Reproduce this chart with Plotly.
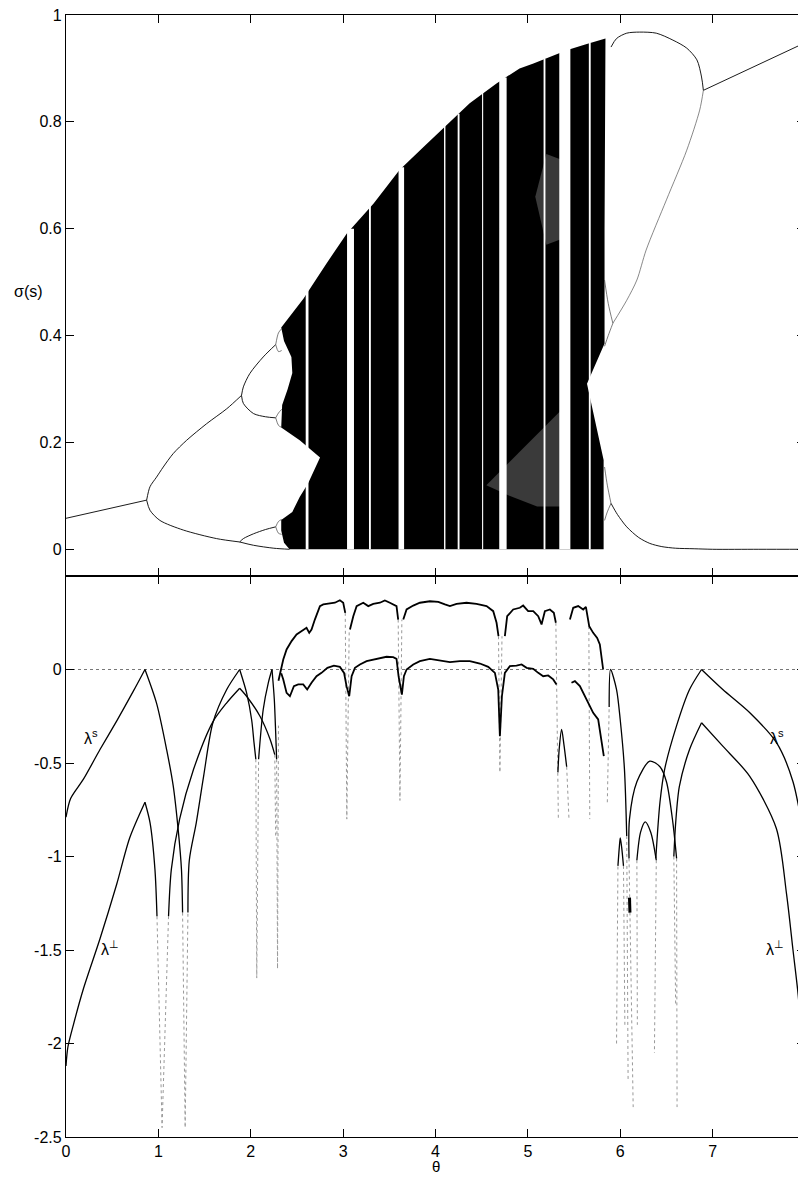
import plotly.graph_objects as go

# ================= TOP PANEL : sigma(s) vs theta =================
# period-1 branch (left) and (right)
p1_theta = [0.0, 0.873]
p1_sigma = [0.058, 0.092]
p1r_theta = [6.90, 8.0]
p1r_sigma = [0.859, 0.948]

# period-2 branches (left)
p2u_theta = [0.873, 0.909, 0.98, 1.053, 1.16, 1.306, 1.522, 1.74, 1.90]
p2u_sigma = [0.092, 0.117, 0.135, 0.154, 0.179, 0.204, 0.235, 0.263, 0.288]
p2l_theta = [0.873, 0.909, 1.017, 1.27, 1.63, 1.88]
p2l_sigma = [0.092, 0.073, 0.054, 0.036, 0.020, 0.0137]

# period-4 branches (left)
p4a_theta = [1.90, 1.92, 1.99, 2.135, 2.27]
p4a_sigma = [0.288, 0.304, 0.329, 0.36, 0.383]
p4b_theta = [1.90, 1.92, 2.03, 2.16, 2.27]
p4b_sigma = [0.288, 0.273, 0.254, 0.248, 0.246]
p4c_theta = [1.88, 1.92, 2.03, 2.16, 2.27]
p4c_sigma = [0.0137, 0.02, 0.029, 0.037, 0.042]
p4d_theta = [1.88, 2.03, 2.25, 2.42]
p4d_sigma = [0.0137, 0.0075, 0.002, 0.0]

# period-8 small loops (left)
p8_theta = [2.27, 2.30, 2.335, None, 2.27, 2.30, 2.335, None,
            2.27, 2.30, 2.335, None, 2.27, 2.30, 2.335, None,
            2.27, 2.30, 2.335, None, 2.27, 2.30, 2.335]
p8_sigma = [0.383, 0.405, 0.413, None, 0.383, 0.37, 0.372, None,
            0.246, 0.255, 0.262, None, 0.246, 0.232, 0.228, None,
            0.042, 0.052, 0.056, None, 0.042, 0.03, 0.028]

# chaotic band (filled outline)
chaos_theta = [2.33, 2.45, 2.57, 2.82, 3.04, 3.33, 3.61, 3.87, 4.12, 4.37, 4.66,
               4.91, 5.06, 5.24, 5.42, 5.62, 5.84, 5.83, 5.83, 5.64, 5.82, 5.82,
               2.42, 2.36, 2.33, 2.33, 2.45, 2.53, 2.62, 2.75, 2.53, 2.33, 2.34,
               2.40, 2.45, 2.44, 2.36, 2.33]
chaos_sigma = [0.415, 0.442, 0.469, 0.535, 0.591, 0.647, 0.71, 0.753, 0.794, 0.835, 0.872,
               0.90, 0.909, 0.922, 0.934, 0.945, 0.956, 0.60, 0.385, 0.31, 0.167, 0.0,
               0.0, 0.012, 0.035, 0.055, 0.07, 0.098, 0.123, 0.172, 0.204, 0.228, 0.27,
               0.30, 0.33, 0.36, 0.39, 0.415]

# less dense (speckled) parts of the chaotic band
speck1_theta = [4.55, 4.95, 5.36, 5.36, 5.1, 4.8]
speck1_sigma = [0.12, 0.19, 0.26, 0.08, 0.08, 0.1]
speck2_theta = [5.08, 5.2, 5.35, 5.35, 5.2]
speck2_sigma = [0.66, 0.74, 0.73, 0.58, 0.57]

# periodic windows inside the chaotic band
win_theta = [2.61, 3.08, 3.29, 3.63, 4.10, 4.25, 4.51, 4.73, 5.18, 5.40, 5.67]
win_width = [0.03, 0.075, 0.02, 0.06, 0.015, 0.02, 0.012, 0.08, 0.02, 0.12, 0.02]
win_top = [0.485, 0.60, 0.65, 0.715, 0.797, 0.815, 0.857, 0.883, 0.918, 0.937, 0.948]

# right side: period-2 bubble and its branches
r_up_theta = [5.90, 5.96, 6.07, 6.21, 6.39, 6.57, 6.72, 6.83, 6.88, 6.90]
r_up_sigma = [0.94, 0.956, 0.966, 0.968, 0.966, 0.953, 0.938, 0.916, 0.884, 0.859]
r_lo_theta = [6.90, 6.86, 6.72, 6.5, 6.28, 6.18, 6.07, 5.92]
r_lo_sigma = [0.859, 0.822, 0.747, 0.654, 0.56, 0.504, 0.466, 0.423]
r_s1_theta = [5.92, 5.87, 5.83, None, 5.92, 5.87, 5.83]
r_s1_sigma = [0.423, 0.46, 0.504, None, 0.423, 0.40, 0.38]
r_bot_theta = [5.90, 5.97, 6.07, 6.2, 6.32, 6.45, 6.6, 6.8, 7.0, 7.5, 8.0]
r_bot_sigma = [0.086, 0.065, 0.042, 0.022, 0.011, 0.005, 0.002, 0.001, 0.0, 0.0, 0.0]
r_s2_theta = [5.90, 5.86, 5.83, None, 5.90, 5.86, 5.83]
r_s2_sigma = [0.086, 0.12, 0.154, None, 0.086, 0.07, 0.054]

# ================= BOTTOM PANEL : Lyapunov exponents =================
zero_theta = [0.0, 8.0]
zero_lam = [0.0, 0.0]

# lambda^s (solid pieces)
ls1_theta = [0.0, 0.05, 0.187, 0.368, 0.548, 0.729, 0.855]
ls1_lam = [-0.79, -0.69, -0.588, -0.428, -0.276, -0.116, 0.0]
ls2_theta = [0.855, 0.98, 1.09, 1.16, 1.215, 1.25, 1.262]
ls2_lam = [0.0, -0.18, -0.43, -0.62, -0.86, -1.07, -1.3]
ls3_theta = [1.32, 1.335, 1.41, 1.49, 1.59, 1.74, 1.88]
ls3_lam = [-1.3, -1.02, -0.82, -0.57, -0.285, -0.107, 0.0]
ls4_theta = [1.88, 1.955, 2.01, 2.035, 2.055]
ls4_lam = [0.0, -0.125, -0.27, -0.39, -0.48]
ls5_theta = [2.085, 2.135, 2.19, 2.23]
ls5_lam = [-0.48, -0.214, -0.071, 0.0]
ls6_theta = [2.23, 2.255, 2.27, 2.28]
ls6_lam = [0.0, -0.16, -0.34, -0.48]

# lambda^perp (solid pieces)
lp1_theta = [0.0, 0.02, 0.08, 0.187, 0.368, 0.548, 0.69, 0.855]
lp1_lam = [-2.12, -2.02, -1.9, -1.71, -1.44, -1.15, -0.9, -0.71]
lp2_theta = [0.855, 0.91, 0.963, 0.985]
lp2_lam = [-0.71, -0.82, -1.07, -1.32]
lp3_theta = [1.11, 1.14, 1.23, 1.38, 1.59, 1.74, 1.88]
lp3_lam = [-1.32, -1.07, -0.8, -0.535, -0.28, -0.178, -0.1]
lp4_theta = [1.88, 1.955, 2.1, 2.21, 2.26]
lp4_lam = [-0.1, -0.143, -0.25, -0.374, -0.455]

# chaotic region: largest exponent (upper) and transverse (lower)
lam1_theta = [2.30, 2.33, 2.352, 2.388, 2.442, 2.496, 2.568, 2.604, 2.633, 2.658, 2.694, 2.749,
              2.785, 2.857, 2.911, 2.965, 3.001, 3.023, None,
              3.074, 3.110, 3.146, 3.218, 3.272, 3.326, 3.398, 3.452, 3.506, 3.578, 3.596, None,
              3.651, 3.687, 3.759, 3.831, 3.939, 4.030, 4.102, 4.156, 4.228, 4.336, 4.444,
              4.553, 4.625, 4.661, 4.682, None,
              4.751, 4.776, 4.841, 4.913, 4.949, 5.003, 5.058, 5.112, 5.148, 5.184, 5.238,
              5.281, 5.303, None,
              5.455, 5.491, 5.545, 5.599, 5.628, 5.664, 5.707, 5.750, 5.779, 5.797, 5.815]
lam1_vals = [-0.06, 0.0, 0.053, 0.107, 0.152, 0.187, 0.214, 0.223, 0.196, 0.214, 0.267, 0.339,
             0.348, 0.351, 0.357, 0.370, 0.357, 0.303, None,
             0.214, 0.285, 0.339, 0.357, 0.339, 0.351, 0.357, 0.369, 0.357, 0.339, 0.267, None,
             0.267, 0.321, 0.342, 0.357, 0.365, 0.362, 0.348, 0.339, 0.351, 0.357, 0.351,
             0.339, 0.312, 0.250, 0.178, None,
             0.178, 0.285, 0.321, 0.330, 0.342, 0.312, 0.312, 0.285, 0.241, 0.312, 0.321,
             0.303, 0.25, None,
             0.267, 0.330, 0.339, 0.321, 0.335, 0.232, 0.196, 0.169, 0.134, 0.071, 0.0]
lam2_theta = [2.33, 2.352, 2.388, 2.424, 2.467, 2.514, 2.568, 2.611, 2.658, 2.712, 2.766,
              2.83, 2.90, 2.965, 3.01, 3.037, 3.066, 3.092, 3.128, 3.182, 3.254, 3.326,
              3.398, 3.470, 3.542, 3.578, 3.600, 3.622, 3.636, 3.658, 3.687, 3.759, 3.831,
              3.939, 4.011, 4.084, 4.156, 4.264, 4.372, 4.481, 4.571, 4.643, 4.679, 4.697,
              4.719, 4.751, 4.805, 4.877, 4.932, 4.986, 5.058, 5.112, 5.166, 5.220, 5.274,
              5.310, None,
              5.472, 5.509, 5.563, 5.599, 5.653, 5.707, 5.761, 5.797, 5.822]
lam2_vals = [-0.02, -0.053, -0.125, -0.143, -0.089, -0.080, -0.080, -0.107, -0.071, -0.036, -0.018,
             0.009, 0.021, 0.014, -0.018, -0.089, -0.143, -0.036, 0.009, 0.027, 0.045, 0.053,
             0.062, 0.068, 0.066, 0.057, -0.036, -0.107, -0.134, -0.036, 0.0, 0.027, 0.045,
             0.057, 0.050, 0.045, 0.039, 0.045, 0.045, 0.032, 0.014, -0.018, -0.107, -0.357,
             -0.143, -0.018, 0.018, 0.021, 0.027, 0.009, 0.004, -0.018, -0.036, -0.032, -0.053,
             -0.080, None,
             -0.071, -0.062, -0.089, -0.125, -0.178, -0.232, -0.267, -0.374, -0.463]

# right part: periodic exponents
la0_theta = [5.975, 5.99, 6.0, 6.015, 6.035]
la0_lam = [-1.05, -0.95, -0.9, -0.95, -1.05]
ls7_theta = [5.88, 5.895, 5.96, 6.0, 6.045, 6.07]
ls7_lam = [-0.2, 0.0, -0.107, -0.27, -0.53, -0.89]
la1_theta = [6.095, 6.10, 6.18, 6.32, 6.43, 6.5, 6.57, 6.61]
la1_lam = [-1.01, -0.8, -0.6, -0.49, -0.52, -0.6, -0.82, -1.01]
la2_theta = [6.18, 6.22, 6.27, 6.33, 6.39]
la2_lam = [-1.02, -0.87, -0.815, -0.87, -1.02]
ls8_theta = [6.385, 6.43, 6.48, 6.61, 6.75, 6.88]
ls8_lam = [-1.01, -0.71, -0.535, -0.3, -0.107, 0.0]
lp5_theta = [6.58, 6.60, 6.64, 6.75, 6.88]
lp5_lam = [-1.0, -0.82, -0.625, -0.428, -0.285]
ls9_theta = [6.88, 7.11, 7.4, 7.69, 7.87, 8.0]
ls9_lam = [0.0, -0.107, -0.23, -0.39, -0.6, -0.93]
lp6_theta = [6.88, 7.11, 7.4, 7.69, 7.80, 7.87, 7.93, 7.96]
lp6_lam = [-0.285, -0.41, -0.57, -0.85, -1.2, -1.5, -1.76, -2.0]
la3_theta = [5.325, 5.34, 5.365, 5.39, 5.42]
la3_lam = [-0.55, -0.42, -0.32, -0.40, -0.52]
blob_theta = [6.10, 6.105]
blob_lam = [-1.22, -1.3]

# dotted (sparsely sampled) parts: dips towards -infinity
dip_theta = [0.985, 1.04, 1.11, None, 1.262, 1.29, 1.32, None,
             2.055, 2.065, 2.085, None, 2.28, 2.29, 2.30, None, 2.26, 2.27, None,
             3.023, 3.04, 3.066, None, 3.596, 3.615, 3.636, None, 4.682, 4.697, 4.72, None,
             5.303, 5.33, None, 5.42, 5.445, None, 5.66, 5.67, None, 5.86, 5.875, 5.88, None,
             6.07, 6.085, None, 5.96, 5.975, None, 6.035, 6.05, None, 6.095, 6.14, None,
             6.18, 6.185, None, 6.39, 6.37, None, 6.61, 6.615, None, 6.58, 6.6, None,
             7.96, 7.99]
dip_lam = [-1.32, -2.45, -1.32, None, -1.3, -2.45, -1.3, None,
           -0.48, -1.65, -0.48, None, -0.48, -1.6, -0.3, None, -0.455, -0.9, None,
           0.303, -0.8, 0.214, None, 0.267, -0.7, 0.267, None, 0.178, -0.55, 0.178, None,
           0.25, -0.8, None, -0.52, -0.8, None, 0.232, -0.8, None, -0.71, -0.4, -0.2, None,
           -0.89, -2.2, None, -2.0, -1.05, None, -1.05, -1.9, None, -1.01, -2.34, None,
           -1.02, -1.9, None, -1.02, -2.05, None, -1.01, -2.34, None, -1.0, -1.8, None,
           -2.0, -2.5]

# labels
lab_text = ["λ<sup>s</sup>", "λ<sup>⊥</sup>", "λ<sup>s</sup>", "λ<sup>⊥</sup>"]
lab_theta = [0.27, 0.48, 7.70, 7.68]
lab_lam = [-0.36, -1.49, -0.36, -1.49]

# ================= FIGURE =================
fig = go.Figure()


def add_line(xs, ys, panel, width=0.9, color="black", dash="solid", shape="linear"):
    xa, ya = ("x", "y") if panel == 1 else ("x2", "y2")
    fig.add_trace(go.Scatter(x=xs, y=ys, mode="lines", xaxis=xa, yaxis=ya,
                             line=dict(color=color, width=width, dash=dash, shape=shape,
                                       smoothing=0.8),
                             hoverinfo="skip", showlegend=False, connectgaps=False))


def add_fill(xs, ys, color):
    fig.add_trace(go.Scatter(x=xs, y=ys, mode="lines", fill="toself", fillcolor=color,
                             line=dict(width=0, color=color), xaxis="x", yaxis="y",
                             hoverinfo="skip", showlegend=False))


# chaotic band
add_fill(chaos_theta, chaos_sigma, "black")
add_fill(speck1_theta, speck1_sigma, "#3a3a3a")
add_fill(speck2_theta, speck2_sigma, "#3a3a3a")

# windows as white strips
wx, wy = [], []
for t, w, top in zip(win_theta, win_width, win_top):
    wx += [t - w / 2, t + w / 2, t + w / 2, t - w / 2, t - w / 2, None]
    wy += [0.0, 0.0, top, top, 0.0, None]
add_fill(wx, wy, "white")

# branches
for xs, ys in [(p1_theta, p1_sigma), (p1r_theta, p1r_sigma)]:
    add_line(xs, ys, 1, width=0.9)
for xs, ys in [(p2u_theta, p2u_sigma), (p2l_theta, p2l_sigma), (p4a_theta, p4a_sigma),
               (p4b_theta, p4b_sigma), (p4c_theta, p4c_sigma), (p4d_theta, p4d_sigma),
               (r_up_theta, r_up_sigma), (r_bot_theta, r_bot_sigma)]:
    add_line(xs, ys, 1, width=0.9, shape="spline")
add_line(r_lo_theta, r_lo_sigma, 1, width=0.7, color="#555", shape="spline")
for xs, ys in [(p8_theta, p8_sigma), (r_s1_theta, r_s1_sigma), (r_s2_theta, r_s2_sigma)]:
    add_line(xs, ys, 1, width=0.7, color="#444", shape="spline")

# bottom panel
add_line(zero_theta, zero_lam, 2, width=1, color="#777", dash="dot")
add_line(dip_theta, dip_lam, 2, width=1, color="#999", dash="dot")
for xs, ys in [(ls1_theta, ls1_lam), (ls2_theta, ls2_lam), (ls3_theta, ls3_lam),
               (ls4_theta, ls4_lam), (ls5_theta, ls5_lam), (ls6_theta, ls6_lam),
               (lp1_theta, lp1_lam), (lp2_theta, lp2_lam), (lp3_theta, lp3_lam),
               (lp4_theta, lp4_lam), (la0_theta, la0_lam), (ls7_theta, ls7_lam),
               (la1_theta, la1_lam), (la2_theta, la2_lam), (ls8_theta, ls8_lam),
               (lp5_theta, lp5_lam), (ls9_theta, ls9_lam), (lp6_theta, lp6_lam),
               (la3_theta, la3_lam)]:
    add_line(xs, ys, 2, width=1.3, shape="spline")
add_line(lam1_theta, lam1_vals, 2, width=1.8)
add_line(lam2_theta, lam2_vals, 2, width=1.8)
add_line(blob_theta, blob_lam, 2, width=3)

FONT = "Liberation Sans, Arial, sans-serif"
for t, x, y in zip(lab_text, lab_theta, lab_lam):
    fig.add_annotation(x=x, y=y, xref="x2", yref="y2", text=t, showarrow=False,
                       font=dict(family=FONT, size=16, color="black"))

fig.add_annotation(x=-0.051, y=0.483, xref="paper", yref="y", text="σ(s)",
                   showarrow=False, xanchor="center", yanchor="middle",
                   font=dict(family=FONT, size=16, color="black"))
fig.add_annotation(x=0.5, y=-0.0265, xref="paper", yref="paper", text="θ",
                   showarrow=False, yanchor="middle",
                   font=dict(family=FONT, size=15, color="black"))

axis_common = dict(showline=True, linecolor="black", linewidth=1.3, mirror="ticks",
                   ticks="inside", ticklen=8, tickwidth=1, tickcolor="black",
                   showgrid=False, zeroline=False, automargin=False,
                   ticklabeloverflow="allow",
                   tickfont=dict(family=FONT, size=16, color="black"))

# the page body adds an 8 px offset, so the figure is 8 px smaller and shifted
fig.update_layout(
    width=798, height=1170,
    margin=dict(l=58, r=1, t=7, b=41),
    paper_bgcolor="white", plot_bgcolor="white",
    showlegend=False,
    xaxis=dict(domain=[0, 1], anchor="y", range=[0, 8], dtick=1, showticklabels=False,
               **axis_common),
    yaxis=dict(domain=[0.5, 1], anchor="x", range=[-0.05, 1], tickvals=[0, 0.2, 0.4, 0.6, 0.8, 1],
               ticktext=["0", "0.2", "0.4", "0.6", "0.8", "1"], **axis_common),
    xaxis2=dict(domain=[0, 1], anchor="y2", range=[0, 8], dtick=1, matches="x",
                **axis_common),
    yaxis2=dict(domain=[0, 0.5], anchor="x2", range=[-2.5, 0.5],
                tickvals=[0, -0.5, -1, -1.5, -2, -2.5],
                ticktext=["0", "-0.5", "-1", "-1.5", "-2", "-2.5"], **axis_common),
)

fig.write_html("out.html")
